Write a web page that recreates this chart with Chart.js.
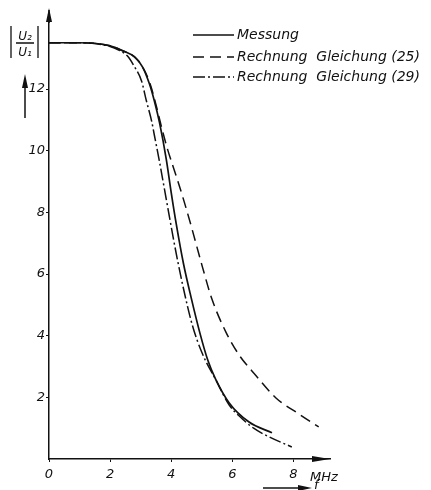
<!DOCTYPE html>
<html>
<head>
    <title>Frequenzgang |U2/U1|</title>
    <script src="https://cdn.jsdelivr.net/npm/chart.js"></script>
    <style>
        body {
            margin: 0;
            background-color: #fff;
        }
        #wrap {
            width: 431px;
            height: 490px;
            position: relative;
        }
    </style>
</head>
<body>
    <div id="wrap"><canvas id="gainChart"></canvas></div>

    <script>
        // values (f in MHz, |U2/U1|)
        var freqMessung = [0, 1, 2, 2.41, 2.8, 3.06, 3.29, 3.45, 3.62, 3.84, 4.0, 4.17, 4.4, 4.65, 4.95, 5.2, 5.45, 5.9, 6.55, 7.3];
        var valMessung  = [13.5, 13.5, 13.4, 13.24, 13.04, 12.72, 12.16, 11.61, 10.9, 9.72, 8.65, 7.6, 6.35, 5.25, 4.05, 3.2, 2.6, 1.82, 1.2, 0.85];

        var freqGl25 = [0, 1, 2, 2.41, 2.8, 3.06, 3.3, 3.5, 3.7, 3.88, 4.2, 4.43, 4.66, 5.02, 5.34, 5.8, 6.22, 6.78, 7.43, 8.18, 8.83];
        var valGl25  = [13.5, 13.5, 13.4, 13.24, 13.04, 12.72, 12.2, 11.5, 10.7, 10.05, 9.07, 8.33, 7.54, 6.24, 5.17, 4.1, 3.38, 2.7, 1.98, 1.46, 1.04];

        var freqGl29 = [0, 1, 2, 2.3, 2.57, 2.8, 3.03, 3.19, 3.36, 3.45, 3.62, 3.78, 3.94, 4.1, 4.36, 4.69, 5.02, 5.47, 5.9, 6.22, 6.7, 7.2, 7.95];
        var valGl29  = [13.5, 13.5, 13.38, 13.25, 13.07, 12.72, 12.26, 11.61, 10.96, 10.5, 9.63, 8.75, 7.87, 7.0, 5.72, 4.35, 3.42, 2.55, 1.75, 1.4, 1.0, 0.72, 0.39];

        var xTicks = [0, 2, 4, 6, 8];
        var yTicks = [2, 4, 6, 8, 10, 12];

        var labels = ['Messung', 'Rechnung  Gleichung (25)', 'Rechnung  Gleichung (29)'];

        function pts(xs, ys) {
            return xs.map(function(x, i) { return {x: x, y: ys[i]}; });
        }

        var ink = '#111';

        // axis arrows, y title, legend, unit text
        var decor = {
            id: 'decor',
            afterDraw: function(chart) {
                var c = chart.ctx;
                var a = chart.chartArea;
                c.save();
                c.strokeStyle = ink;
                c.fillStyle = ink;
                c.lineWidth = 1.5;

                // y axis arrow
                c.beginPath();
                c.moveTo(a.left, a.top + 8);
                c.lineTo(a.left, 10);
                c.stroke();
                c.beginPath();
                c.moveTo(a.left, 8);
                c.lineTo(a.left - 3, 22);
                c.lineTo(a.left + 3, 22);
                c.closePath();
                c.fill();

                // x axis arrow
                c.beginPath();
                c.moveTo(a.right, a.bottom);
                c.lineTo(a.right - 18, a.bottom - 3);
                c.lineTo(a.right - 18, a.bottom + 3);
                c.closePath();
                c.fill();

                // y title |U2/U1|
                c.lineWidth = 1.3;
                c.beginPath();
                c.moveTo(11, 26); c.lineTo(11, 58);
                c.moveTo(38, 26); c.lineTo(38, 58);
                c.moveTo(16, 43); c.lineTo(34, 43);
                c.stroke();
                c.font = 'italic 12px "DejaVu Sans", sans-serif';
                c.textAlign = 'center';
                c.textBaseline = 'alphabetic';
                c.fillText('U\u2082', 25, 40);
                c.fillText('U\u2081', 25, 56);

                // arrow under y title
                c.lineWidth = 1.5;
                c.beginPath();
                c.moveTo(25, 118); c.lineTo(25, 84);
                c.stroke();
                c.beginPath();
                c.moveTo(25, 74); c.lineTo(22, 88); c.lineTo(28, 88);
                c.closePath();
                c.fill();

                // unit and f arrow
                c.font = 'italic 13px "DejaVu Sans", sans-serif';
                c.textAlign = 'left';
                c.textBaseline = 'middle';
                c.fillText('MHz', 310, 478);
                c.beginPath();
                c.moveTo(263, 488); c.lineTo(300, 488);
                c.stroke();
                c.beginPath();
                c.moveTo(312, 488); c.lineTo(298, 485); c.lineTo(298, 491);
                c.closePath();
                c.fill();
                c.fillText('f', 314, 486);

                // legend
                c.font = 'italic 14px "DejaVu Sans", sans-serif';
                var rows = [35, 57, 77];
                chart.data.datasets.forEach(function(ds, i) {
                    c.setLineDash(ds.borderDash || []);
                    c.lineWidth = ds.borderWidth;
                    c.beginPath();
                    c.moveTo(193, rows[i]);
                    c.lineTo(234, rows[i]);
                    c.stroke();
                    c.setLineDash([]);
                    c.fillText(ds.label, 237, rows[i]);
                });
                c.restore();
            }
        };

        var ctx = document.getElementById('gainChart').getContext('2d');
        var gainChart = new Chart(ctx, {
            type: 'line',
            data: {
                datasets: [{
                    label: labels[0],
                    data: pts(freqMessung, valMessung),
                    borderColor: ink,
                    borderWidth: 1.7,
                    borderDash: []
                }, {
                    label: labels[1],
                    data: pts(freqGl25, valGl25),
                    borderColor: ink,
                    borderWidth: 1.5,
                    borderDash: [11, 6]
                }, {
                    label: labels[2],
                    data: pts(freqGl29, valGl29),
                    borderColor: ink,
                    borderWidth: 1.5,
                    borderDash: [12, 3, 2, 3]
                }]
            },
            options: {
                responsive: true,
                maintainAspectRatio: false,
                animation: false,
                layout: { padding: { top: 15, right: 101, left: 0, bottom: 0 } },
                elements: {
                    point: { radius: 0 },
                    line: { cubicInterpolationMode: 'monotone', fill: false }
                },
                plugins: {
                    legend: { display: false },
                    tooltip: { enabled: false }
                },
                scales: {
                    x: {
                        type: 'linear',
                        min: 0,
                        max: 9.2,
                        afterBuildTicks: function(s) { s.ticks = xTicks.map(function(v) { return {value: v}; }); },
                        afterFit: function(s) { s.height = 31; },
                        grid: { drawOnChartArea: false, drawTicks: true, tickLength: 3, color: ink },
                        border: { display: true, color: ink, width: 1.5 },
                        ticks: { color: ink, font: { family: 'DejaVu Sans', style: 'italic', size: 13 }, padding: 5, maxRotation: 0 }
                    },
                    y: {
                        type: 'linear',
                        min: 0,
                        max: 14.4,
                        afterBuildTicks: function(s) { s.ticks = yTicks.map(function(v) { return {value: v}; }); },
                        afterFit: function(s) { s.width = 49; },
                        grid: { drawOnChartArea: false, drawTicks: true, tickLength: 3, color: ink },
                        border: { display: true, color: ink, width: 1.5 },
                        ticks: { color: ink, font: { family: 'DejaVu Sans', style: 'italic', size: 13 }, padding: 1 }
                    }
                }
            },
            plugins: [decor]
        });
    </script>
</body>
</html>
